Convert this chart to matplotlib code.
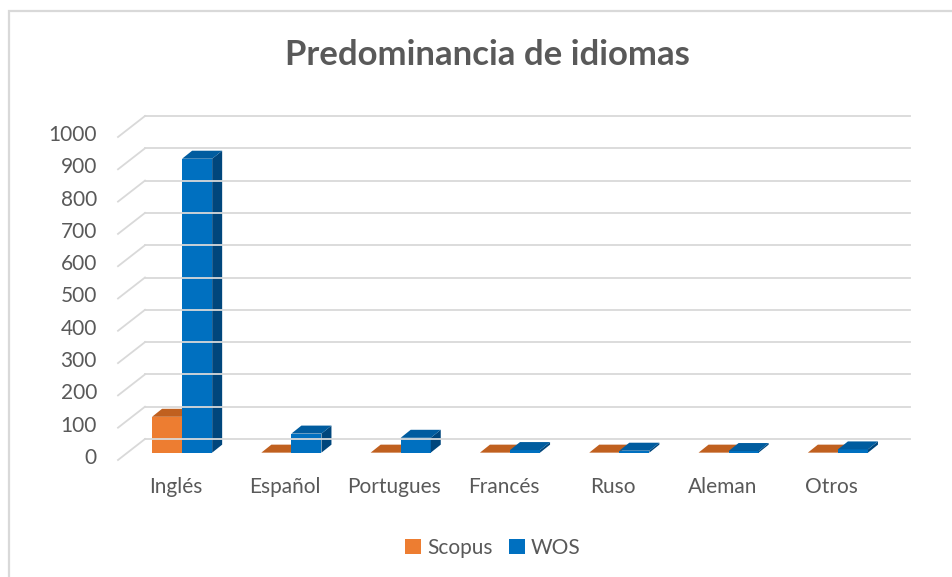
import matplotlib
matplotlib.use("Agg")
import matplotlib.pyplot as plt
from matplotlib.patches import Polygon, Patch, Rectangle
from matplotlib.lines import Line2D

# ---- data ----
categories = ["Inglés", "Español", "Portugues", "Francés", "Ruso", "Aleman", "Otros"]
scopus = [111, 0, 0, 0, 0, 0, 0]
wos = [910, 59, 46, 8, 6, 5, 10]
series_names = ["Scopus", "WOS"]
y_ticks = [0, 100, 200, 300, 400, 500, 600, 700, 800, 900, 1000]
title = "Predominancia de idiomas"

# ---- style ----
W, H, DPI = 953, 577, 100
TXT = "#595959"
GRID = "#D9D9D9"
FONT = "Lato"
c_front = {"Scopus": "#ED7D31", "WOS": "#0070C0"}
c_top = {"Scopus": "#C0601F", "WOS": "#005C9F"}
c_side = {"Scopus": "#A9531A", "WOS": "#00467C"}

fig = plt.figure(figsize=(W / DPI, H / DPI), dpi=DPI)
fig.patch.set_facecolor("white")

# bar plane axes (depth d = 0.35 of the floor)
D_BAR = 0.35
DEPTH_DX, DEPTH_DY = 27, 21           # full floor depth, px
CAT_W = 109.3                          # px per category
SCALE = 0.323                          # px per unit
x0_px = 118 + DEPTH_DX * D_BAR
y0_px = (H - 460) + DEPTH_DY * D_BAR   # from bottom
ax = fig.add_axes([x0_px / W, y0_px / H, 7 * CAT_W / W, 1000 * SCALE / H])
ax.set_xlim(-0.5, len(categories) - 0.5)
ax.set_ylim(0, 1000)
ax.axis("off")

fig.canvas.draw()
to_fig = fig.transFigure.inverted()


def P(cx, v, d):
    """display point on plane at depth d (0 front, 1 back)"""
    px, py = ax.transData.transform((cx, v))
    return (px + (d - D_BAR) * DEPTH_DX, py + (d - D_BAR) * DEPTH_DY)


def F(pt):
    return tuple(to_fig.transform(pt))


# chart frame
fig.add_artist(Rectangle((9 / W, -0.1), 1.2, (H - 11) / H + 0.1, transform=fig.transFigure,
                         fill=False, edgecolor=GRID, linewidth=1.6))

# gridlines: back wall + left wall
n = len(categories)
for v in y_ticks:
    a, b = F(P(-0.5, v, 1)), F(P(n - 0.5, v, 1))
    fig.add_artist(Line2D([a[0], b[0]], [a[1], b[1]], transform=fig.transFigure,
                          color=GRID, linewidth=1.3))
    c = F(P(-0.5, v, 0))
    fig.add_artist(Line2D([c[0], a[0]], [c[1], a[1]], transform=fig.transFigure,
                          color=GRID, linewidth=1.3))
    fig.text(c[0] - 21 / W, c[1] + 2 / H, str(v), ha="right", va="center",
             fontsize=15, color=TXT, family=FONT)

# category labels
for i, cat in enumerate(categories):
    p = F(P(i, 0, 0.12))
    fig.text(p[0], p[1] - 30 / H, cat, ha="center", va="center",
             fontsize=15, color=TXT, family=FONT)

# bars with 3D faces
bw = 0.275
TOP_DX, TOP_DY = 10, 8
for k, (name, vals) in enumerate(zip(series_names, [scopus, wos])):
    xs = [i + (k - 0.5) * bw for i in range(n)]
    ax.bar(xs, vals, width=bw, color=c_front[name], linewidth=0, zorder=2 + k)
    for x, v in zip(xs, vals):
        l, r = x - bw / 2, x + bw / 2
        fl = ax.transData.transform((l, v))
        fr = ax.transData.transform((r, v))
        br0 = ax.transData.transform((r, 0))
        top = [fl, fr, (fr[0] + TOP_DX, fr[1] + TOP_DY), (fl[0] + TOP_DX, fl[1] + TOP_DY)]
        side = [br0, fr, (fr[0] + TOP_DX, fr[1] + TOP_DY), (br0[0] + TOP_DX, br0[1] + TOP_DY)]
        ax.add_patch(Polygon([F(p) for p in side], closed=True, transform=fig.transFigure,
                             facecolor=c_side[name], edgecolor="none", zorder=2 + k,
                             clip_on=False))
        ax.add_patch(Polygon([F(p) for p in top], closed=True, transform=fig.transFigure,
                             facecolor=c_top[name], edgecolor="none", zorder=2 + k,
                             clip_on=False))

# title
fig.text(487.5 / W, 1 - 55 / H, title, ha="center", va="center", fontsize=25,
         fontweight="bold", color=TXT, family=FONT)

# legend
handles = [Patch(facecolor=c_front[s], edgecolor="none") for s in series_names]
leg = fig.legend(handles, series_names, loc="center", bbox_to_anchor=(493 / W, 1 - 548 / H),
                 ncol=2, frameon=False, handlelength=0.75, handleheight=0.75,
                 handletextpad=0.3, columnspacing=0.8,
                 prop={"family": FONT, "size": 15})
for t in leg.get_texts():
    t.set_color(TXT)

fig.savefig("out.png", dpi=DPI, facecolor="white")
